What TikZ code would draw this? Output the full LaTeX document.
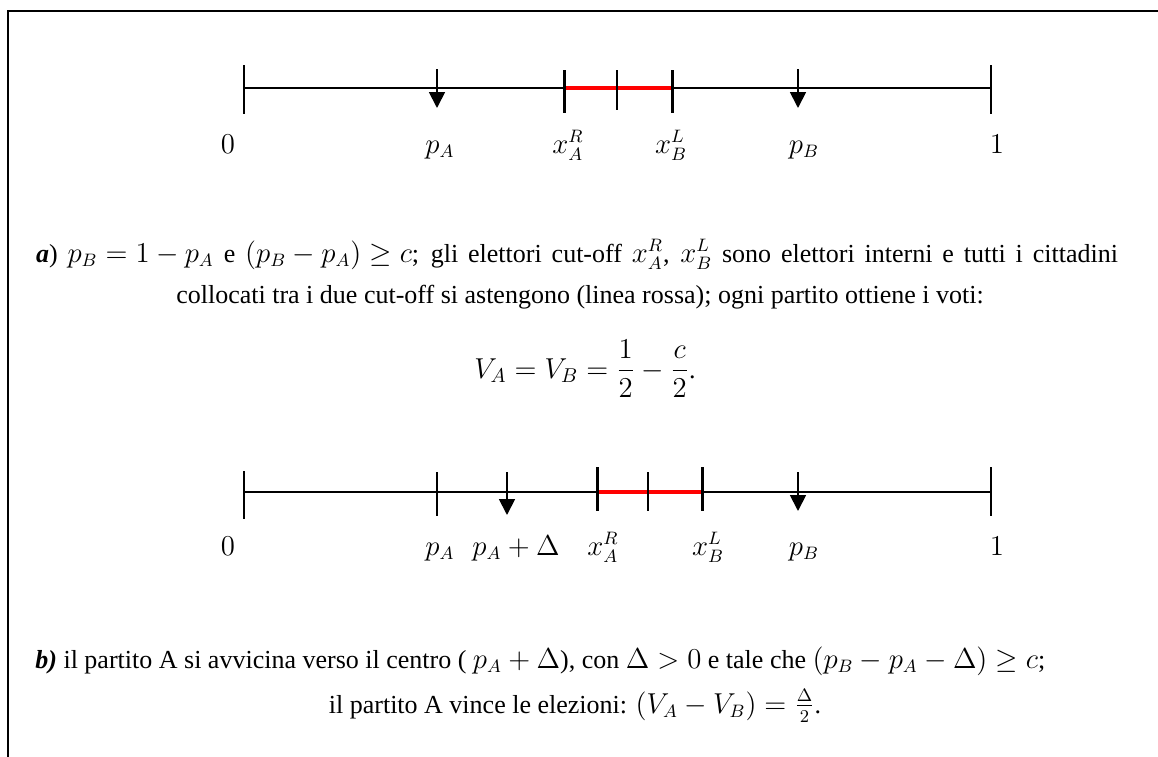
\documentclass[tikz,border=0pt]{standalone}
\usepackage{fontspec}
\setmainfont{Liberation Serif}
\usetikzlibrary{arrows.meta}

% math is set a little larger than the text, with rigid spacing
\newcommand{\mth}[1]{{\fontsize{13.5}{16}\selectfont\thickmuskip=5mu\medmuskip=4mu$#1$}}

\tikzset{
  axisline/.style={line width=1pt},
  endtick/.style={line width=1.2pt},
  cuttick/.style={line width=1.5pt},
  midtick/.style={line width=0.9pt},
  redseg/.style={red, line width=2.2pt},
  party/.style={line width=0.9pt, -{Triangle[length=8pt,width=8pt]}},
  lbl/.style={inner sep=0pt, anchor=base},
  txt/.style={inner sep=0pt, anchor=base}
}

\begin{document}
\begin{tikzpicture}[x=0.5pt, y=-0.5pt, font=\fontsize{13}{15}\selectfont]
  \useasboundingbox (0,0) rectangle (1158,756);

  % Frame (only top and left sides are visible)
  \draw[line width=1.1pt] (8,770) -- (8,11) -- (1170,11);

  % Points of the first axis
  \coordinate (zeroA) at (244,88);
  \coordinate (oneA)  at (991,88);
  \coordinate (pA)    at (437,88);
  \coordinate (xAR)   at (564,88);
  \coordinate (midA)  at (617,88);
  \coordinate (xBL)   at (672,88);
  \coordinate (pB)    at (798,88);

  % First axis
  \draw[axisline] (zeroA) -- (oneA);
  \draw[redseg] (xAR) -- (xBL);
  \draw[endtick] (zeroA) ++(0,-23) -- ++(0,49);
  \draw[endtick] (oneA) ++(0,-23) -- ++(0,49);
  \draw[cuttick] (xAR) ++(0,-18) -- ++(0,43);
  \draw[midtick] (midA) ++(0,-18) -- ++(0,40);
  \draw[cuttick] (xBL) ++(0,-18) -- ++(0,43);
  \draw[party] (pA) ++(0,-19) -- ++(0,39);
  \draw[party] (pB) ++(0,-19) -- ++(0,39);

  % Labels of the first axis
  \node[lbl] (l0A)  at (228,153) {\mth{0}};
  \node[lbl] (lpA)  at (440,153) {\mth{p_A}};
  \node[lbl] (lxAR) at (568,153) {\mth{x_A^R}};
  \node[lbl] (lxBL) at (671,153) {\mth{x_B^L}};
  \node[lbl] (lpB)  at (804,153) {\mth{p_B}};
  \node[lbl] (l1A)  at (997,153) {\mth{1}};

  % Caption a)
  \node[txt] (capA1) at (577,262) {\makebox[541pt][s]{\textbf{\textit{a}}) \mth{p_B=1-p_A} e \mth{(p_B-p_A)\geq c}; gli elettori cut-off \mth{x_A^R}, \mth{x_B^L} sono elettori interni e tutti i cittadini}};
  \node[txt] (capA2) at (580,303) {collocati tra i due cut-off si astengono (linea rossa); ogni partito ottiene i voti:};
  \node[txt] (capA3) at (585,378) {{\fontsize{13.8}{16}\selectfont$\displaystyle V_A=V_B=\frac{1}{2}-\frac{c}{2}$}.};

  % Points of the second axis
  \coordinate (zeroB) at (244,492);
  \coordinate (oneB)  at (991,492);
  \coordinate (pAold) at (437,492);
  \coordinate (pAnew) at (507,492);
  \coordinate (xARb)  at (597,492);
  \coordinate (midB)  at (648,492);
  \coordinate (xBLb)  at (702,492);
  \coordinate (pBb)   at (798,492);

  % Second axis
  \draw[axisline] (zeroB) -- (oneB);
  \draw[redseg] (xARb) -- (xBLb);
  \draw[endtick] (zeroB) ++(0,-21) -- ++(0,48);
  \draw[endtick] (oneB) ++(0,-25) -- ++(0,49);
  \draw[midtick] (pAold) ++(0,-20) -- ++(0,44);
  \draw[cuttick] (xARb) ++(0,-25) -- ++(0,44);
  \draw[midtick] (midB) ++(0,-20) -- ++(0,39);
  \draw[cuttick] (xBLb) ++(0,-25) -- ++(0,44);
  \draw[party] (pAnew) ++(0,-20) -- ++(0,43);
  \draw[party] (pBb) ++(0,-20) -- ++(0,39);

  % Labels of the second axis
  \node[lbl] (l0B)   at (228,555) {\mth{0}};
  \node[lbl] (lpAo)  at (440,555) {\mth{p_A}};
  \node[lbl] (lpAn)  at (516,555) {\mth{p_A+\Delta}};
  \node[lbl] (lxARb) at (603,555) {\mth{x_A^R}};
  \node[lbl] (lxBLb) at (708,555) {\mth{x_B^L}};
  \node[lbl] (lpBb)  at (804,555) {\mth{p_B}};
  \node[lbl] (l1B)   at (997,555) {\mth{1}};

  % Caption b)
  \node[txt, anchor=base west] (capB1) at (35,668) {\textbf{\textit{b)}} il partito A si avvicina verso il centro ( \mth{p_A+\Delta}), con \mth{\Delta>0} e tale che \mth{(p_B-p_A-\Delta)\geq c};};
  \node[txt] (capB2) at (575,713) {il partito A vince le elezioni: \mth{(V_A-V_B)=\frac{\Delta}{2}}.};
\end{tikzpicture}
\end{document}
